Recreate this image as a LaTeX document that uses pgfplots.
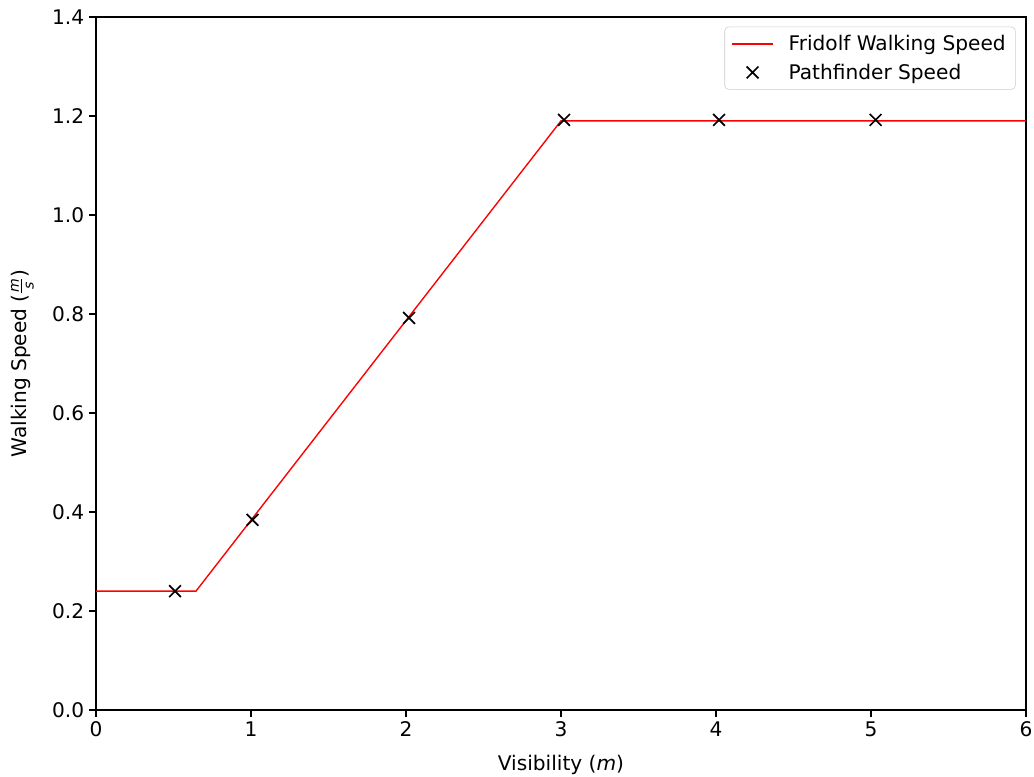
\documentclass[border=0pt]{standalone}
\usepackage{pgfplots}
\pgfplotsset{compat=1.18}
\usetikzlibrary{calc}
\usepackage{amsmath}
\usepackage{fontspec}
\setmainfont{DejaVu Sans}
\newcommand{\fs}{\fontsize{14.5}{17}\selectfont}
\pgfplotsset{
  lineleg/.style={legend image code/.code={\draw[##1] (0pt,0pt) -- (29pt,0pt);}},
  markleg/.style={legend image code/.code={\draw[##1] plot coordinates {(14.5pt,0pt)};}},
}
\begin{document}
\begin{tikzpicture}
\begin{axis}[
  name=ax,
  at={(0,0)}, anchor=south west,
  scale only axis,
  width=669.6pt, height=499pt,
  xmin=0, xmax=6, ymin=0, ymax=1.4,
  xtick={0,1,2,3,4,5,6},
  ytick={0,0.2,0.4,0.6,0.8,1.0,1.2,1.4},
  tick align=outside, xtick pos=left, ytick pos=left,
  major tick length=5pt,
  tick style={black, line width=0.9pt},
  axis line style={line width=0.9pt},
  /pgf/number format/assume math mode=true,
  yticklabel style={/pgf/number format/fixed, /pgf/number format/fixed zerofill, /pgf/number format/precision=1},
  ticklabel style={font=\fs},
  label style={font=\fs},
  xlabel={Visibility (\textit{m})},
  ylabel={Walking Speed ($\frac{\textit{m}}{\textit{s}}$)},
  xlabel style={at={(0.5,0)}, anchor=center, yshift=-39.6pt},
  ylabel style={at={(0,0.5)}, anchor=center, yshift=53pt},
  legend style={font=\fs, draw=black!20, rounded corners=3pt, inner xsep=5pt, inner ysep=4pt, row sep=4pt, at={(0.989,0.986)}, anchor=north east,
    /tikz/every odd column/.append style={column sep=9pt}},
  legend cell align=left,
]
\addplot[red, line width=1pt, lineleg] coordinates {(0,0.24) (0.645,0.24) (3.0,1.19) (6,1.19)};
\addlegendentry{Fridolf Walking Speed}
\addplot[only marks, mark=x, mark size=6pt, black, mark options={line width=1.2pt}, markleg] coordinates {(0.51,0.24) (1.01,0.384) (2.02,0.792) (3.02,1.192) (4.02,1.192) (5.03,1.192)};
\addlegendentry{Pathfinder Speed}
\end{axis}
\pgfresetboundingbox
\path ($(ax.south west)+(-69.1pt,-48.2pt)$) rectangle ($(ax.north east)+(5.8pt,12.2pt)$);
\end{tikzpicture}
\end{document}
